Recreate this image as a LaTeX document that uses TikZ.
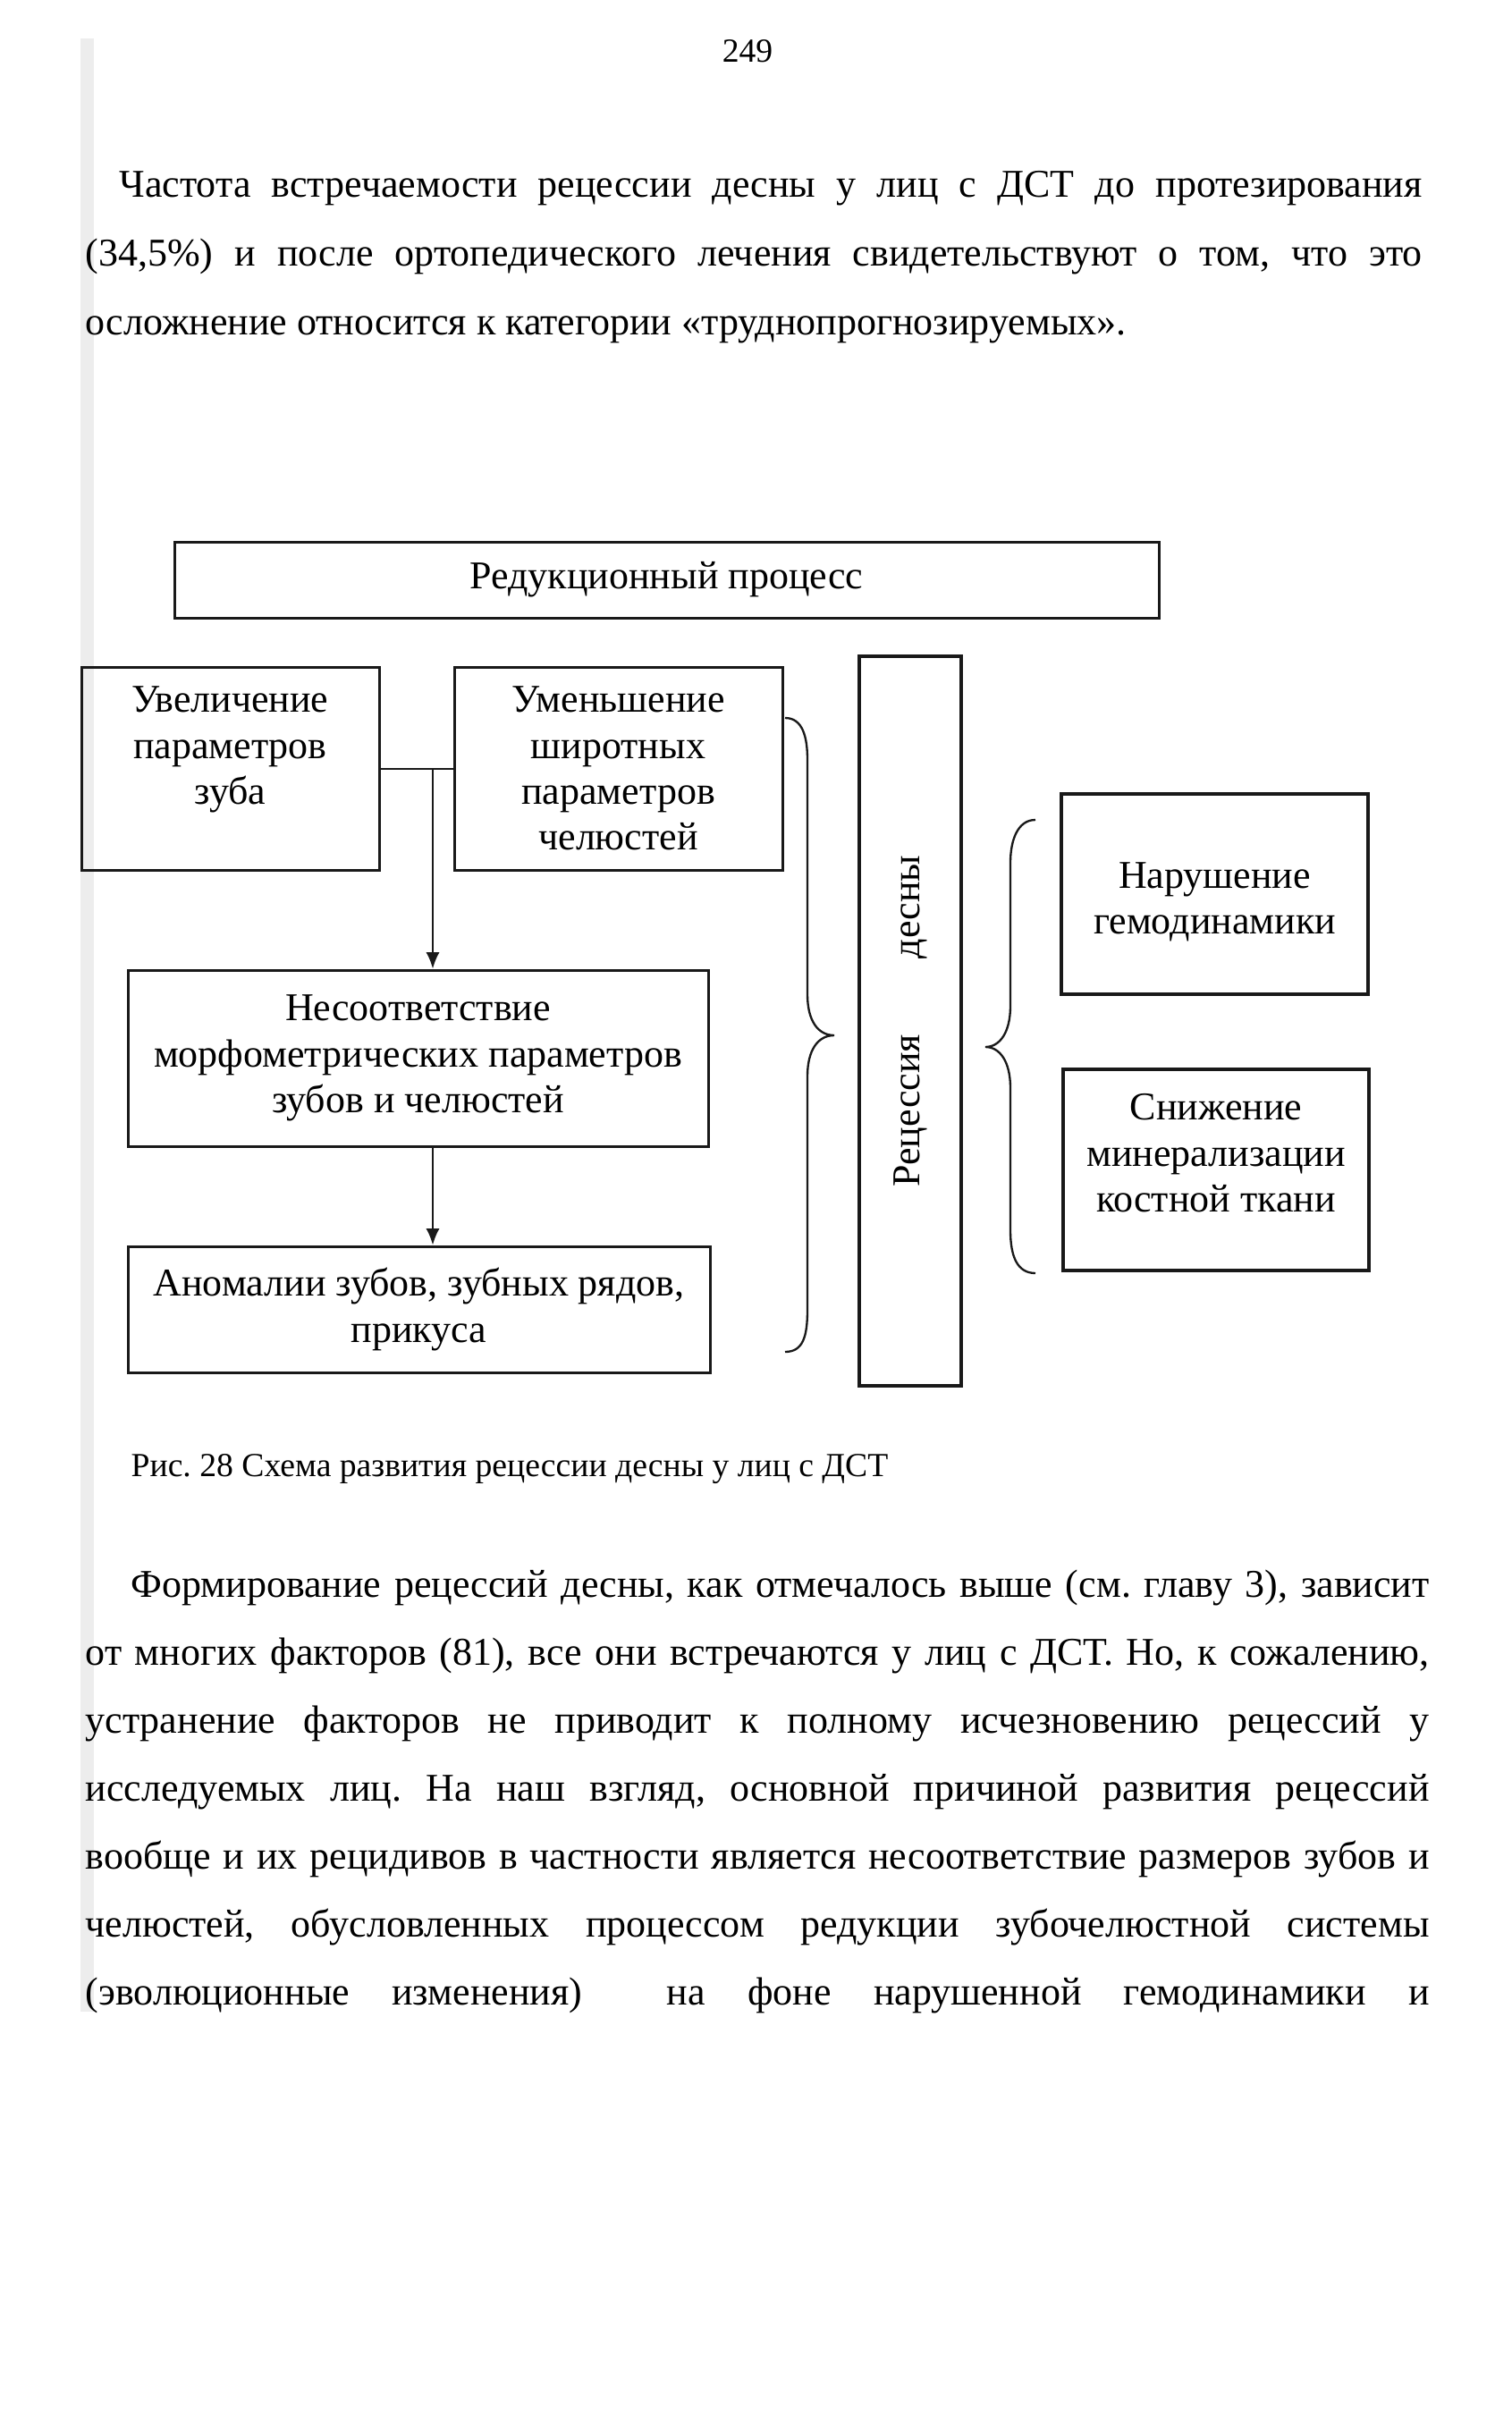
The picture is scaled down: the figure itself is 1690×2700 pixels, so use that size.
\documentclass[tikz,border=0pt]{standalone}
\usepackage{fontspec}
\setmainfont{Liberation Serif}
\usetikzlibrary{arrows.meta,calc,positioning}
\definecolor{ScanGray}{RGB}{237,237,237}
\definecolor{InkBlack}{RGB}{25,25,25}
\newcommand{\fs}{\fontsize{13.2pt}{15.4pt}\selectfont}
\newcommand{\fcap}{\fontsize{11.3pt}{13.5pt}\selectfont}
\newcommand{\jline}[2]{\makebox[#1][s]{#2}}
\frenchspacing

\begin{document}
\begin{tikzpicture}[x=0.3pt,y=-0.3pt,>={Latex[length=5.5pt,width=4.5pt]},
    blok/.style={draw=InkBlack,line width=0.9pt,align=center,inner sep=0pt,font=\fs},
    tolst/.style={blok,line width=1.2pt},
    tekst/.style={anchor=base west,inner sep=0pt,font=\fs}]
  \useasboundingbox (0,0) rectangle (1690,2700);
  \fill[white] (0,0) rectangle (1690,2700);
  \fill[ScanGray] (90,43) rectangle (105,2250);

  \node[anchor=base,inner sep=0pt,font=\fcap] (nomer) at (836,70) {249};

  % text before the figure
  \node[tekst] (a1) at (133,221) {\jline{437.1pt}{Частота встречаемости рецессии десны у лиц с ДСТ до протезирования}};
  \node[tekst] (a2) at (95,298) {\jline{448.5pt}{(34,5\%) и после ортопедического лечения свидетельствуют о том, что это}};
  \node[tekst] (a3) at (95,375) {осложнение относится к категории «труднопрогнозируемых».};

  % schema
  \node[blok,minimum width=330.3pt,minimum height=25.5pt] (reduk) at (745.5,648.5) {Редукционный процесс};
  \node[blok,minimum width=99.9pt,minimum height=68.1pt] (uvel) at (257.5,859.5) {Увеличение\\параметров\\зуба\\\mbox{}};
  \node[blok,minimum width=110.1pt,minimum height=68.1pt] (umen) at (691.5,859.5) {Уменьшение\\широтных\\параметров\\челюстей};
  \node[blok,minimum width=194.7pt,minimum height=59.1pt] (nesoot) at (467.5,1183.5) {Несоответствие\\морфометрических параметров\\зубов и челюстей};
  \node[blok,minimum width=195.3pt,minimum height=42.3pt] (anom) at (468.5,1464.5) {Аномалии зубов, зубных рядов,\\прикуса};
  \node[tolst,rotate=90,minimum width=244.8pt,minimum height=34.2pt] (rec) at (1018,1142) {Рецессия\hspace{25.5pt}десны};
  \node[tolst,minimum width=102.9pt,minimum height=67.2pt] (gemo) at (1358.5,1000) {\mbox{}\\[-1.5pt]Нарушение\\гемодинамики};
  \node[tolst,minimum width=102.6pt,minimum height=67.5pt] (miner) at (1360,1308.5) {Снижение\\минерализации\\костной ткани\\[-4pt]\mbox{}};

  \coordinate (uzel) at (484,859.5);
  \draw[line width=0.6pt,InkBlack] (uvel.east) -- (umen.west);
  \draw[->,line width=0.6pt,InkBlack] (uzel) -- (uzel |- nesoot.north);
  \draw[->,line width=0.6pt,InkBlack] (nesoot.south -| uzel) -- (uzel |- anom.north);

  % braces
  \draw[line width=0.7pt,InkBlack] (878,803) .. controls (898,803) and (903,825) .. (903,850)
    -- (903,1112) .. controls (903,1142) and (915,1158) .. (933,1158)
    .. controls (915,1158) and (903,1174) .. (903,1204)
    -- (903,1465) .. controls (903,1495) and (898,1512) .. (878,1512);
  \draw[line width=0.7pt,InkBlack] (1158,917) .. controls (1138,917) and (1130,940) .. (1130,965)
    -- (1130,1125) .. controls (1130,1155) and (1118,1171) .. (1102,1171)
    .. controls (1118,1171) and (1130,1187) .. (1130,1217)
    -- (1130,1376) .. controls (1130,1406) and (1138,1424) .. (1158,1424);

  \node[anchor=base west,inner sep=0pt,font=\fcap] (podpis) at (146,1651) {Рис. 28 Схема развития рецессии десны у лиц с ДСТ};

  % text after the figure
  \node[tekst] (b1) at (146,1786) {\jline{435.6pt}{Формирование рецессий десны, как отмечалось выше (см. главу 3), зависит}};
  \node[tekst] (b2) at (95,1862) {\jline{450.9pt}{от многих факторов (81), все они встречаются у лиц с ДСТ. Но, к сожалению,}};
  \node[tekst] (b3) at (95,1938) {\jline{450.9pt}{устранение факторов не приводит к полному исчезновению рецессий у}};
  \node[tekst] (b4) at (95,2014) {\jline{450.9pt}{исследуемых лиц. На наш взгляд, основной причиной развития рецессий}};
  \node[tekst] (b5) at (95,2090) {\jline{450.9pt}{вообще и их рецидивов в частности является несоответствие размеров зубов и}};
  \node[tekst] (b6) at (95,2166) {\jline{450.9pt}{челюстей, обусловленных процессом редукции зубочелюстной системы}};
  \node[tekst] (b7) at (95,2242) {\jline{450.9pt}{(эволюционные изменения)\ \ на фоне нарушенной гемодинамики и}};
\end{tikzpicture}
\end{document}
